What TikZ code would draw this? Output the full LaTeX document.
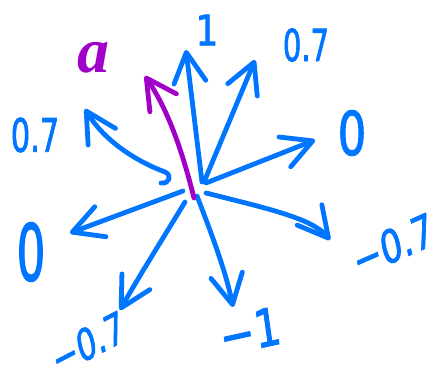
\documentclass[tikz,border=0pt]{standalone}
\usepackage{fontspec}
\setmainfont{DejaVu Sans}
\newfontfamily\penfont[FakeBold=2]{DejaVu Sans}
\newfontfamily\afont{Liberation Serif}
\usetikzlibrary{arrows.meta}
\definecolor{penblue}{RGB}{0,117,255}
\definecolor{penpurple}{RGB}{160,0,200}
\begin{document}
\begin{tikzpicture}[x=1pt,y=-1pt,
  vec/.style={penblue, line width=4.8pt, line cap=round, line join=round,
    -{Straight Barb[length=30pt,width=32pt,round]}},
  pvec/.style={vec, penpurple},
  lbl/.style={penblue, inner sep=0pt, anchor=center},
  sz/.style={font=\penfont\fontsize{#1}{#1}\selectfont}]
\useasboundingbox (0,0) rectangle (448,374);
% start and tip points
\coordinate (s1) at (202,182); \coordinate (t1) at (186,50);
\coordinate (s2) at (204,182); \coordinate (t2) at (255,60);
\coordinate (s3) at (206,183); \coordinate (t3) at (315,140);
\coordinate (s4) at (206,193); \coordinate (t4) at (330,240);
\coordinate (s5) at (197,196); \coordinate (t5) at (233,307);
\coordinate (s6) at (185,202); \coordinate (t6) at (120,310);
\coordinate (s7) at (183,191); \coordinate (t7) at (70,233);
\coordinate (s8) at (161,183); \coordinate (t8) at (85,109);
\coordinate (sa) at (194,198); \coordinate (ta) at (145,76);
% arrows
\draw[vec] (s1) -- (t1);
\draw[vec] (s2) -- (t2);
\draw[vec] (s3) -- (t3);
\draw[vec] (s4) .. controls (265,208) and (312,218) .. (t4);
\draw[vec] (s5) .. controls (212,235) and (226,272) .. (t5);
\draw[vec] (s6) .. controls (165,235) and (138,278) .. (t6);
\draw[vec] (s7) -- (t7);
\draw[vec] (s8) .. controls (170,184) and (172,175) .. (165,172)
               .. controls (138,162) and (105,142) .. (t8);
\draw[pvec] (sa) .. controls (182,150) and (168,110) .. (ta);
% labels
\node[lbl, sz=42, xscale=.85] (l1) at (207,30) {1};
\node[lbl, sz=44, xscale=.66] (l2) at (306,45) {0.7};
\node[lbl, sz=60, xscale=.75] (l3) at (352,133) {0};
\node[lbl, sz=46, xscale=.74, rotate=18] (l4) at (393,245) {−0.7};
\node[lbl, sz=52, xscale=.8, rotate=10] (l5) at (250,331) {−1};
\node[lbl, sz=44, xscale=.7, rotate=20] (l6) at (88,343) {−0.7};
\node[lbl, sz=78, xscale=.58] (l7) at (31,252) {0};
\node[lbl, sz=46, xscale=.66] (l8) at (35,135) {0.7};
\node[lbl, penpurple, font=\afont\bfseries\itshape\fontsize{64}{64}\selectfont] (la) at (93,58) {a};
\end{tikzpicture}
\end{document}
